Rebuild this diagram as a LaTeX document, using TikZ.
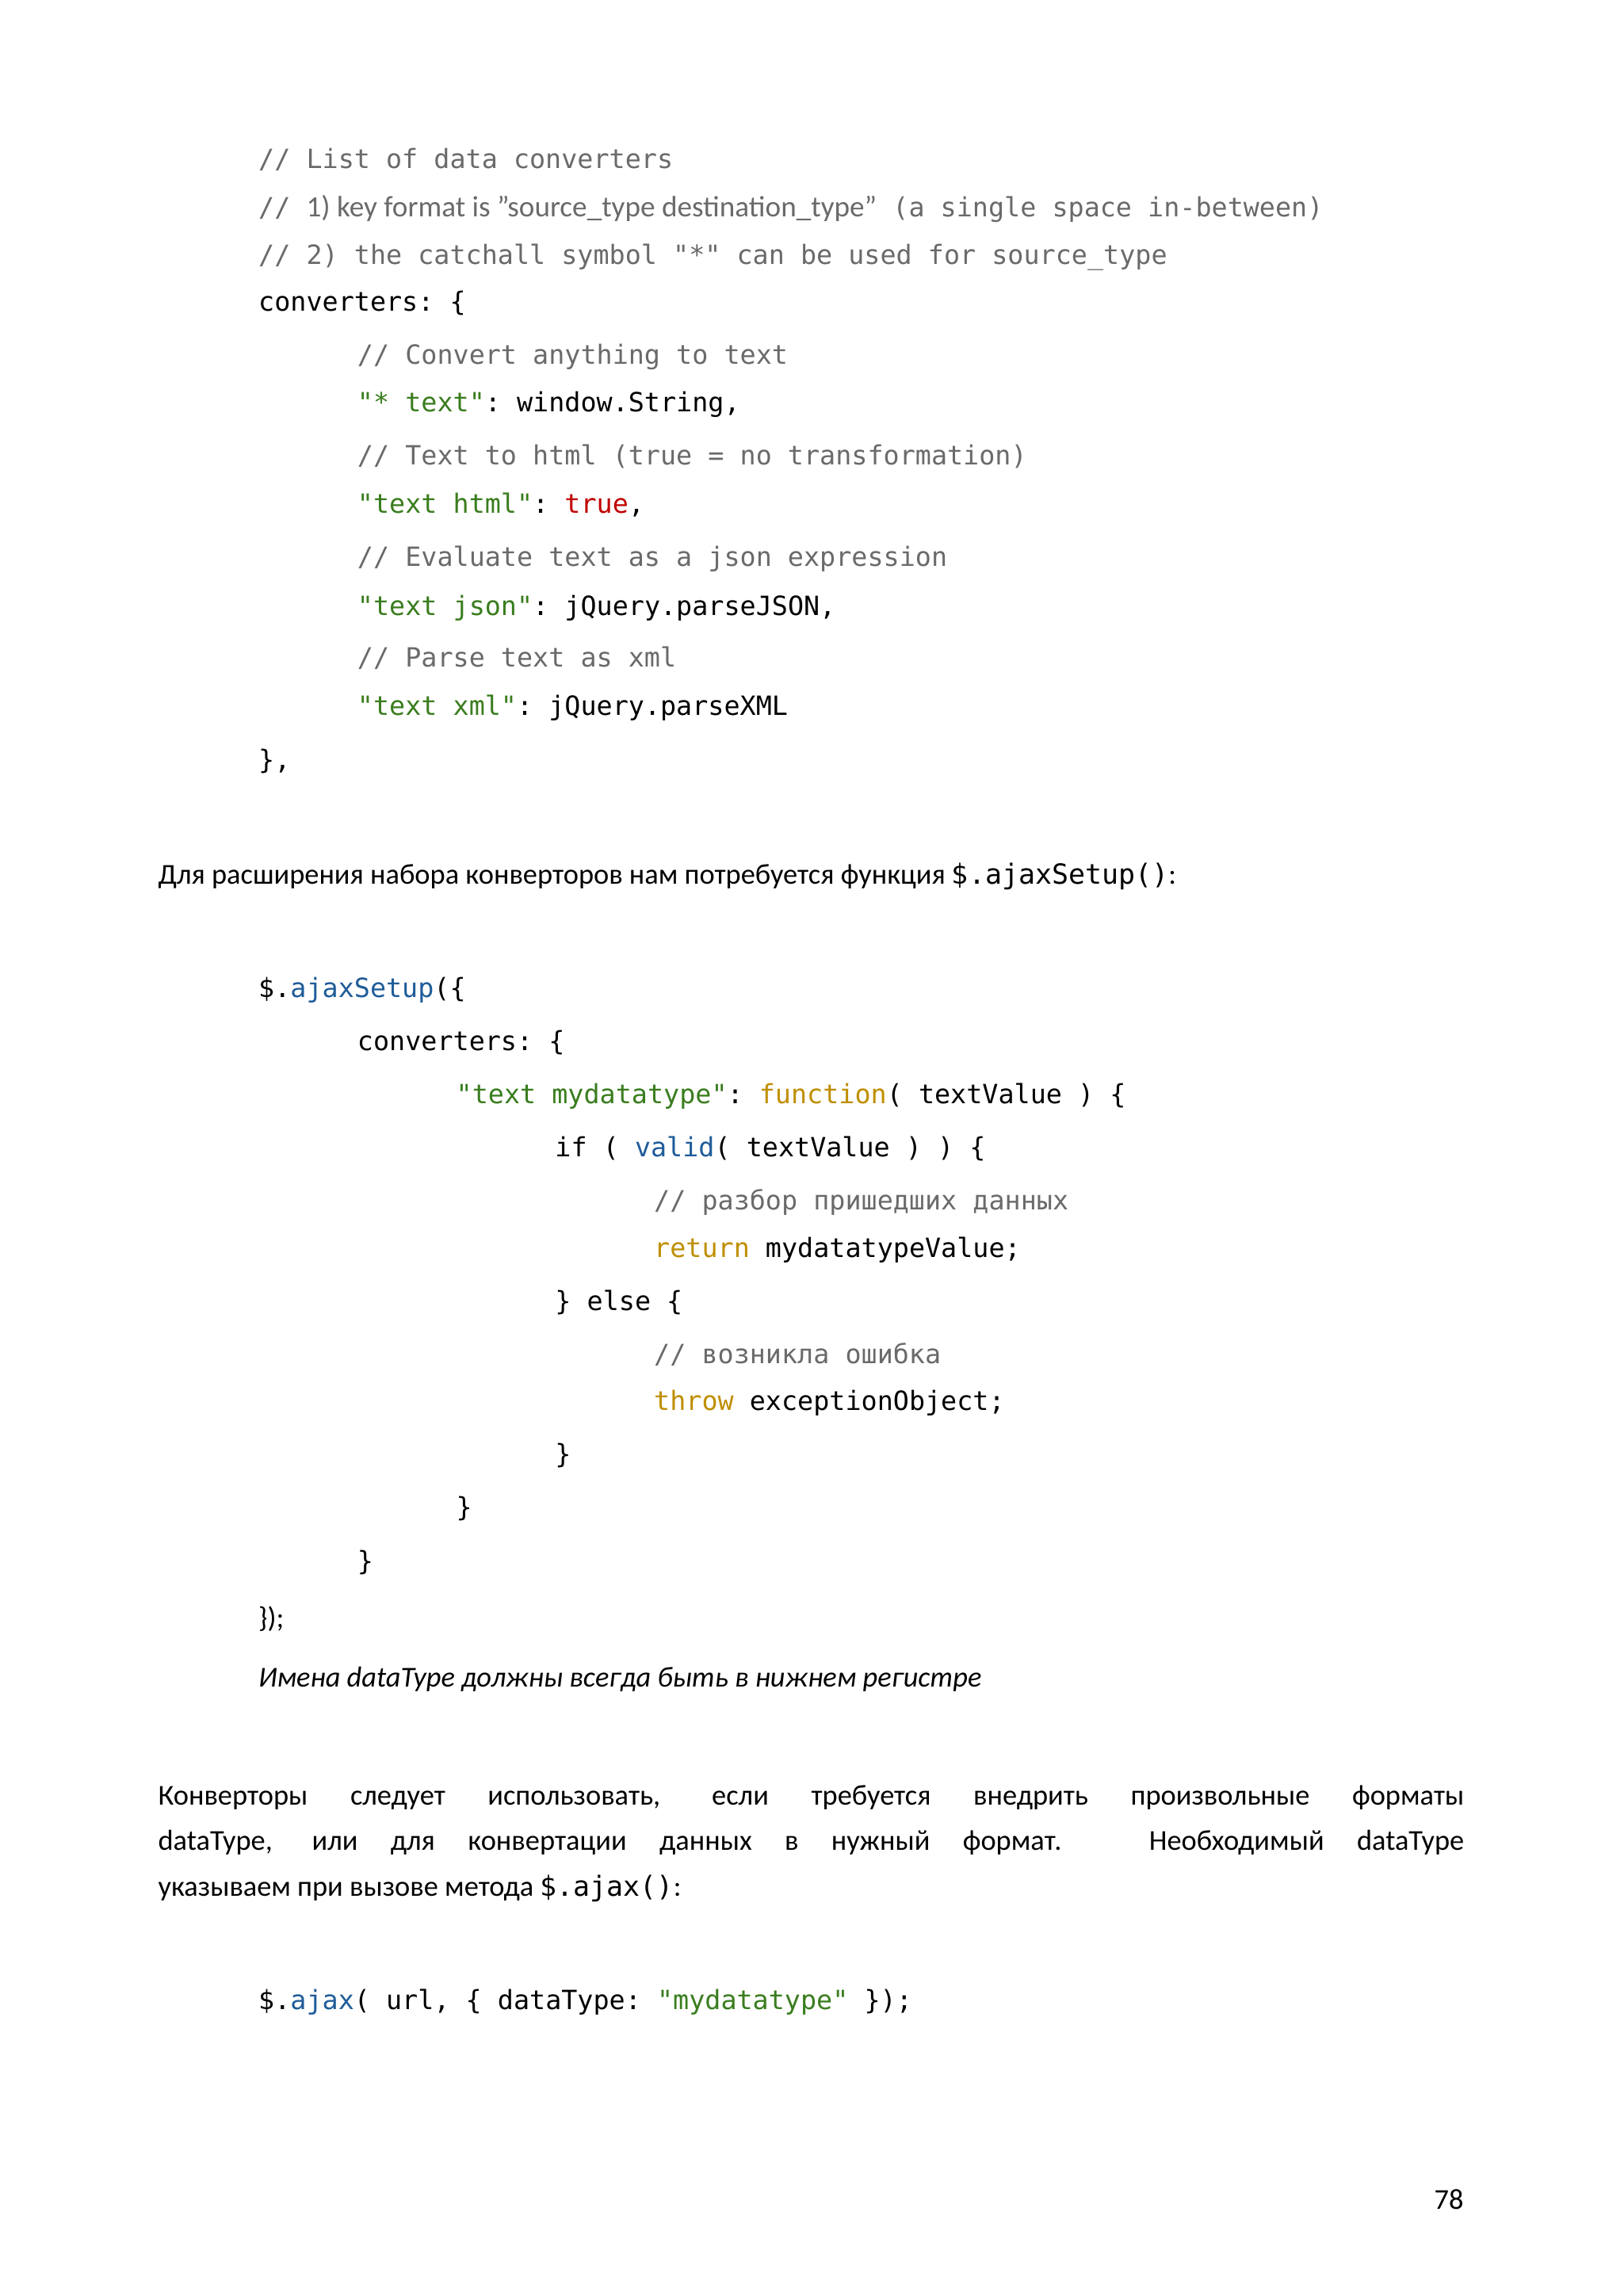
\documentclass[tikz,border=0pt]{standalone}
\usepackage{fontspec}
\setmainfont{Carlito}
\setmonofont{DejaVu Sans Mono}[Scale=0.96]
\definecolor{cgray}{HTML}{6A6A6A}
\definecolor{cgreen}{HTML}{3A7D1E}
\definecolor{cred}{HTML}{C00000}
\definecolor{cgold}{HTML}{BF8F00}
\definecolor{cblue}{HTML}{1F5C99}
\newcommand{\cm}[1]{\textcolor{cgray}{#1}}
\newcommand{\cs}[1]{\textcolor{cgreen}{#1}}
\newcommand{\ck}[1]{\textcolor{cgold}{#1}}
\newcommand{\cb}[1]{\textcolor{cblue}{#1}}
\begin{document}
\begin{tikzpicture}[x=0.9309pt,y=-0.9309pt,
  cl/.style={anchor=base west,inner sep=0pt,font=\fontsize{17.4}{20}\ttfamily},
  tx/.style={anchor=base west,inner sep=0pt,font=\fontsize{18.2}{22}\selectfont}]
\useasboundingbox[fill=white] (0,0) rectangle (1100,1556);
\node[cl] (l1) at (175,114) {\cm{// List of data converters}};
\node[cl] (l2) at (175,147) {\cm{// {\rmfamily\fontsize{18.6}{22}\selectfont 1) key format is "source\_type destination\_type"} (a single space in-between)}};
\node[cl] (l3) at (175,179) {\cm{// 2) the catchall symbol "*" can be used for source\_type}};
\node[cl] (l4) at (175,211) {converters: \{};
\node[cl] (l5) at (242,247) {\cm{// Convert anything to text}};
\node[cl] (l6) at (242,279) {\cs{"* text"}: window.String,};
\node[cl] (l7) at (242,315) {\cm{// Text to html (true = no transformation)}};
\node[cl] (l8) at (242,348) {\cs{"text html"}: \textcolor{cred}{true},};
\node[cl] (l9) at (242,384) {\cm{// Evaluate text as a json expression}};
\node[cl] (l10) at (242,417) {\cs{"text json"}: jQuery.parseJSON,};
\node[cl] (l11) at (242,452) {\cm{// Parse text as xml}};
\node[cl] (l12) at (242,485) {\cs{"text xml"}: jQuery.parseXML};
\node[cl] (l13) at (175,521) {\},};
\node[tx] (p1) at (107,599) {Для расширения набора конверторов нам потребуется функция {\ttfamily\$.ajaxSetup()}:};
\node[cl] (m1) at (175,676) {\$.\cb{ajaxSetup}(\{};
\node[cl] (m2) at (242,712) {converters: \{};
\node[cl] (m3) at (309,748) {\cs{"text mydatatype"}: \ck{function}( textValue ) \{};
\node[cl] (m4) at (376,784) {if ( \cb{valid}( textValue ) ) \{};
\node[cl] (m5) at (443,820) {\cm{// разбор пришедших данных}};
\node[cl] (m6) at (443,852) {\ck{return} mydatatypeValue;};
\node[cl] (m7) at (376,888) {\} else \{};
\node[cl] (m8) at (443,924) {\cm{// возникла ошибка}};
\node[cl] (m9) at (443,956) {\ck{throw} exceptionObject;};
\node[cl] (m10) at (376,992) {\}};
\node[cl] (m11) at (309,1028) {\}};
\node[cl] (m12) at (242,1064) {\}};
\node[tx] (m13) at (175,1103) {\});};
\node[tx] (it) at (175,1143) {\itshape Имена dataType должны всегда быть в нижнем регистре};
\node[tx] (q1) at (107,1223) {\makebox[823.8pt][s]{Конверторы следует использовать, если требуется внедрить произвольные форматы}};
\node[tx] (q2) at (107,1254) {\makebox[823.8pt][s]{dataType, или для конвертации данных в нужный формат. Необходимый dataType}};
\node[tx] (q3) at (107,1285) {указываем при вызове метода {\ttfamily\$.ajax()}:};
\node[cl] (r1) at (175,1362) {\$.\cb{ajax}( url, \{ dataType: \cs{"mydatatype"} \});};
\node[tx,anchor=base east] (pg) at (992,1497) {78};
\end{tikzpicture}
\end{document}
